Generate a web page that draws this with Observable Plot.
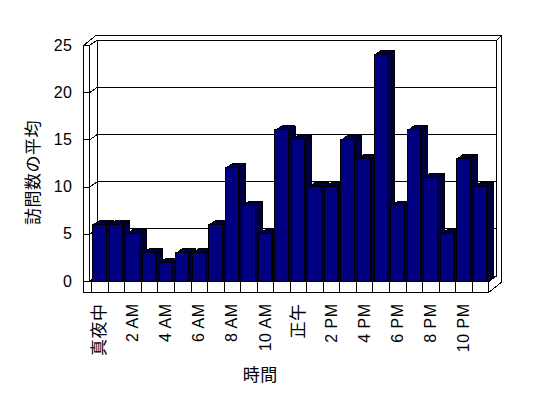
<!DOCTYPE html>
<html><head><meta charset="utf-8">
<script src="https://cdn.jsdelivr.net/npm/d3@7"></script>
<script src="https://cdn.jsdelivr.net/npm/@observablehq/plot@0.6"></script>
<style>body{margin:0;background:#fff}</style>
</head><body><div id="chart"></div>
<script>
// ---- data ----
const hourIndex = [0,1,2,3,4,5,6,7,8,9,10,11,12,13,14,15,16,17,18,19,20,21,22,23];
const visits = [6,6,5,3,2,3,3,6,12,8,5,16,15,10,10,15,13,24,8,16,11,5,13,10];
const tickHours = [0,2,4,6,8,10,12,14,16,18,20,22];
const tickLabels = ["真夜中","2 AM","4 AM","6 AM","8 AM","10 AM","正午","2 PM","4 PM","6 PM","8 PM","10 PM"];
const yTicks = [0,5,10,15,20,25];
const yTitle = "訪問数の平均";
const xTitle = "時間";

// ---- layout ----
const W = 548, H = 398, mL = 83, mR = 51.5, mT = 45, mB = 117;
const xDom = [-1, 24], yDom = [0, 25];
const ux = (xDom[1]-xDom[0])/(W-mL-mR);   // data units per px (x)
const uy = (yDom[1]-yDom[0])/(H-mT-mB);   // data units per px (y)
const half = 6.7*ux;                       // bar half width
const bdx = 6.5*ux, bdy = 4.5*uy;          // bar depth
const d1x = 8*ux, d1y = 5.5*uy;            // back wall depth
const d2x = 13*ux, d2y = 10.5*uy;          // outer wall depth
const xL = xDom[0], xI = xL + 6*ux, xR = hourIndex.length - 0.5;
const yTop = yDom[1];
const floorB = -11*uy;

// frame segments
const segs = [];
const S = (x1,y1,x2,y2) => segs.push({x1,y1,x2,y2});
S(xL, yTop, xL, floorB);
S(xI, 0, xI, yTop);
for (const v of yTicks) {
  S(xL, v, xI, v);
  S(xI, v, xI+d1x, v+d1y);
  S(xI+d1x, v+d1y, xR+d1x, v+d1y);
}
S(xI+d1x, d1y, xI+d1x, yTop+d1y);
S(xR+d1x, d1y, xR+d1x, yTop+d1y);
S(xL, yTop, xL+d2x, yTop+d2y);
S(xL+d2x, yTop+d2y, xR+d2x, yTop+d2y);
S(xR+d1x, yTop+d1y, xR+d2x, yTop+d2y);
S(xR+d2x, yTop+d2y, xR+d2x, floorB+d2y);
S(xR, floorB, xR+d2x, floorB+d2y);
S(xR, 0, xR+d1x, d1y);

const seps = hourIndex.map(i => i - 0.5).concat([xR]);

// bar side/top polygons
const polys = [];
visits.forEach((v, i) => {
  const x1 = i - half, x2 = i + half;
  [[x1,v],[x1+bdx,v+bdy],[x2+bdx,v+bdy],[x2,v],[x1,v]].forEach(([x,y]) => polys.push({id:"t"+i, x, y}));
  [[x2,v],[x2+bdx,v+bdy],[x2+bdx,bdy],[x2,0],[x2,v]].forEach(([x,y]) => polys.push({id:"s"+i, x, y}));
});

const chart = Plot.plot({
  width: W, height: H,
  marginLeft: mL, marginRight: mR, marginTop: mT, marginBottom: mB,
  style: {fontFamily: "'Liberation Sans','Noto Sans CJK JP',sans-serif", fontSize: "16px", letterSpacing: "0.5px", background: "#fff", color: "#000", overflow: "visible"},
  x: {domain: xDom, ticks: tickHours, tickFormat: d => tickLabels[tickHours.indexOf(d)], tickRotate: -90, tickSize: 0, tickPadding: 22, label: null},
  y: {domain: yDom, ticks: yTicks, tickSize: 0, tickPadding: 11, label: null},
  marks: [
    Plot.link(segs, {x1: "x1", y1: "y1", x2: "x2", y2: "y2", stroke: "#000", strokeWidth: 1}),
    Plot.rect([0], {x1: xL, x2: xR, y1: floorB, y2: 0, fill: "#fff", stroke: "#000"}),
    Plot.link(seps, {x1: d => d, x2: d => d, y1: 0, y2: floorB, stroke: "#000"}),
    Plot.link([0], {x1: xL, x2: xL, y1: yTop, y2: floorB, stroke: "#000"}),
    Plot.line(polys, {x: "x", y: "y", z: "id", fill: "url(#dither)", stroke: "#000", strokeWidth: 1, curve: "linear"}),
    Plot.rect(visits, {x1: (d,i) => hourIndex[i] - half, x2: (d,i) => hourIndex[i] + half, y1: 0, y2: d => d, fill: "#000080", stroke: "#000"}),
    Plot.text([yTitle], {text: d => d, frameAnchor: "left", textAnchor: "middle", lineAnchor: "middle", rotate: -90, dx: -50, dy: 9, fontSize: 17}),
    Plot.text([xTitle], {text: d => d, frameAnchor: "bottom", textAnchor: "middle", lineAnchor: "middle", dx: -30, dy: 94, fontSize: 17})
  ]
});

const ns = "http://www.w3.org/2000/svg";
const defs = document.createElementNS(ns, "defs");
defs.innerHTML = '<pattern id="dither" width="2" height="2" patternUnits="userSpaceOnUse"><rect width="2" height="2" fill="#000"/><rect width="1" height="1" fill="#000080"/><rect x="1" y="1" width="1" height="1" fill="#000080"/></pattern>';
chart.insertBefore(defs, chart.firstChild);
chart.querySelectorAll("path, line, rect").forEach(e => e.setAttribute("shape-rendering", "crispEdges"));
chart.querySelectorAll("text").forEach(t => {
  if (/[\u3000-\u9fff]/.test(t.textContent)) t.setAttribute("font-size", "17");
});
document.getElementById("chart").appendChild(chart);
</script>
</body></html>
